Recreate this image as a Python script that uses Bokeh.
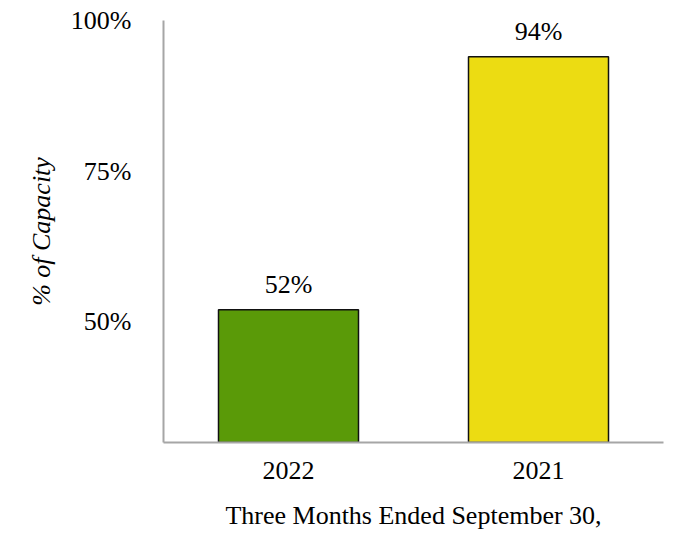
from bokeh.plotting import figure
from bokeh.models import ColumnDataSource, FixedTicker, CustomJSTickFormatter, Range1d, FactorRange
from bokeh.embed import file_html
from bokeh.resources import INLINE
from bokeh.core.properties import value

years = ["2022", "2021"]
capacity = [52, 94]
colors = ["#5a9a08", "#ecdc12"]
labels = ["52%", "94%"]
y_ticks = [50, 75, 100]

src = ColumnDataSource(dict(x=years, top=capacity, color=colors, label=labels))

p = figure(width=674, height=544, output_backend="svg", toolbar_location=None,
           x_range=FactorRange(*years, range_padding=0), y_range=Range1d(30, 100),
           min_border_left=163, min_border_right=11, min_border_top=20, min_border_bottom=102)
p.outline_line_color = None
p.grid.grid_line_color = None
p.background_fill_color = "white"

p.vbar(x="x", top="top", bottom=0, width=0.56, fill_color="color", line_color="#111111",
       line_width=1.5, source=src)
p.text(x="x", y="top", text="label", source=src, text_align="center", text_baseline="bottom",
       y_offset=-11, text_font=value("Liberation Serif"), text_font_size="26px", text_color="black")

for ax in (p.xaxis[0], p.yaxis[0]):
    ax.axis_line_color = "#a6a6a6"
    ax.axis_line_width = 2
    ax.major_tick_line_color = None
    ax.minor_tick_line_color = None
    ax.major_label_text_font = "Liberation Serif"
    ax.major_label_text_font_size = "26px"
    ax.major_label_text_color = "black"
    ax.axis_label_text_font = "Liberation Serif"
    ax.axis_label_text_font_size = "26px"
    ax.axis_label_text_color = "black"

p.yaxis.ticker = FixedTicker(ticks=y_ticks)
p.yaxis.formatter = CustomJSTickFormatter(code="return tick + '%';")
p.yaxis.major_label_standoff = 26
p.yaxis.axis_label = "% of Capacity"
p.yaxis.axis_label_text_font_style = "italic"
p.yaxis.axis_label_standoff = 12

p.xaxis.major_label_standoff = 13
p.xaxis.axis_label = "Three Months Ended September 30,"
p.xaxis.axis_label_text_font_style = "normal"
p.xaxis.axis_label_standoff = 19

open("out.html", "w").write(file_html(p, INLINE))
